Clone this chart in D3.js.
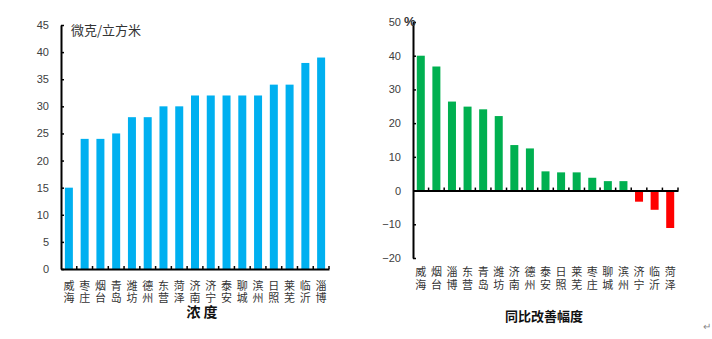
<!DOCTYPE html>
<html><head><meta charset="utf-8">
<script src="https://cdn.jsdelivr.net/npm/d3@7"></script>
<style>
body{margin:0;background:#fff;}
svg{display:block;}
</style></head>
<body>
<svg id="c" width="712" height="339"></svg>
<script>
// Left chart: concentration (微克/立方米)
const concCities = ["威海","枣庄","烟台","青岛","潍坊","德州","东营","菏泽","济南","济宁","泰安","聊城","滨州","日照","莱芜","临沂","淄博"];
const concValues = [15,24,24,25,28,28,30,30,32,32,32,32,32,34,34,38,39];
const concTicks = [0,5,10,15,20,25,30,35,40,45];
const concUnit = "微克/立方米";
const concTitle = "浓 度";

// Right chart: year-on-year improvement (%)
const yoyCities = ["威海","烟台","淄博","东营","青岛","潍坊","济南","德州","泰安","日照","莱芜","枣庄","聊城","滨州","济宁","临沂","菏泽"];
const yoyValues = [40,36.8,26.4,24.9,24.1,22.1,13.5,12.5,5.7,5.4,5.4,3.8,2.8,2.8,-3.3,-5.7,-11.1];
const yoyTicks = [-20,-10,0,10,20,30,40,50];
const yoyUnit = "%";
const yoyTitle = "同比改善幅度";

const svg = d3.select("#c");
const numFont = "'Liberation Sans', Arial, sans-serif";
const cjkFont = "'Noto Sans CJK SC', sans-serif";

function drawChart(cfg){
  const g = svg.append("g");
  const x = d3.scaleBand().domain(cfg.cats).range([cfg.x0, cfg.x1]).padding(0);
  const y = d3.scaleLinear().domain(cfg.domain).range([cfg.yb, cfg.yt]);
  const bw = 8;
  // bars
  g.selectAll("rect.bar").data(cfg.cats).join("rect")
    .attr("x", d => x(d) + x.bandwidth()/2 - bw/2)
    .attr("width", bw)
    .attr("y", (d,i) => y(Math.max(0, cfg.vals[i])))
    .attr("height", (d,i) => Math.abs(y(cfg.vals[i]) - y(0)))
    .attr("fill", (d,i) => cfg.color(cfg.vals[i]));
  // y axis
  const ya = g.append("g").attr("transform", `translate(${cfg.x0},0)`)
    .call(d3.axisLeft(y).tickValues(cfg.ticks).tickSizeInner(-3).tickSizeOuter(0).tickPadding(12));
  ya.select(".domain").attr("stroke","#000").attr("stroke-width",2);
  ya.selectAll(".tick line").attr("stroke","#000").attr("stroke-width",1.5);
  ya.selectAll(".tick text").attr("font-family", numFont).attr("font-size", 11).attr("fill","#404040");
  // x axis (at zero), ticks at category boundaries pointing up
  const y0 = y(0);
  const xa = g.append("g").attr("transform", `translate(0,${y0})`)
    .call(d3.axisBottom(x).tickSize(0).tickFormat(""));
  xa.select(".domain").attr("stroke","#000").attr("stroke-width",2);
  const bounds = cfg.cats.map(d => x(d) + x.bandwidth());
  g.selectAll("line.xt").data(bounds).join("line")
    .attr("x1", d => d).attr("x2", d => d)
    .attr("y1", y0).attr("y2", y0 - 3)
    .attr("stroke","#000").attr("stroke-width",1.5);
  // category labels (vertical two-char text)
  g.selectAll("text.cat").data(cfg.cats).join("text")
    .attr("class","cat")
    .attr("x", d => x(d) + x.bandwidth()/2)
    .attr("y", cfg.labTop)
    .attr("writing-mode","vertical-rl")
    .style("writing-mode","vertical-rl")
    .style("letter-spacing", cfg.labGap + "px")
    .attr("font-family", cjkFont)
    .attr("font-size", 11).attr("fill","#333")
    .text(d => d);
  // unit
  g.append("text").attr("x", cfg.unitX).attr("y", cfg.unitY)
    .attr("font-family", cfg.unitFont).attr("font-size", cfg.unitSize)
    .attr("fill","#333").attr("font-weight", cfg.unitWeight).text(cfg.unit);
  // title
  g.append("text").attr("x", cfg.titleX).attr("y", cfg.titleY)
    .attr("text-anchor","middle").attr("font-family", cjkFont)
    .attr("font-size", cfg.titleSize).attr("font-weight","bold").attr("fill","#111").text(cfg.title);
}

drawChart({
  cats: concCities, vals: concValues, ticks: concTicks, domain:[0,45],
  x0: 61, x1: 329, yb: 269, yt: 25,
  color: () => "#00B0F0",
  labTop: 280, labGap: 1.5,
  unit: concUnit, unitX: 71, unitY: 35, unitSize: 13, unitFont: cjkFont, unitWeight: "normal",
  title: concTitle, titleX: 202, titleY: 317, titleSize: 14
});

drawChart({
  cats: yoyCities, vals: yoyValues, ticks: yoyTicks, domain:[-20,50],
  x0: 413, x1: 678, yb: 258, yt: 22,
  color: v => v >= 0 ? "#00B050" : "#FF0000",
  labTop: 266, labGap: 2,
  unit: yoyUnit, unitX: 404, unitY: 26, unitSize: 13, unitFont: numFont, unitWeight: "bold",
  title: yoyTitle, titleX: 544, titleY: 321, titleSize: 13
});

svg.append("text").attr("x", 703).attr("y", 330).attr("font-family", numFont)
  .attr("font-size", 10).attr("fill","#888").text("↵");
</script>
</body></html>
